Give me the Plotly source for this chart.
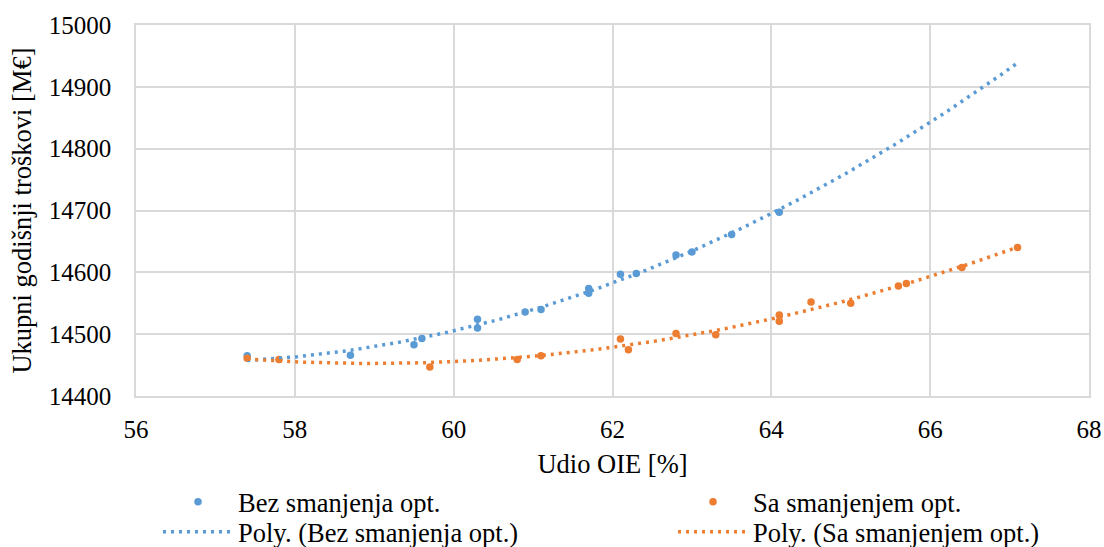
import numpy as np
import plotly.graph_objects as go

# Data
bez_x = [57.4, 58.7, 59.5, 59.6, 60.3, 60.3, 60.9, 61.1, 61.7, 61.7, 62.1, 62.3, 62.8, 63.0, 63.5, 64.1]
bez_y = [14465, 14466, 14483, 14493, 14524, 14510, 14536, 14540, 14574, 14566, 14597, 14598, 14628, 14633, 14661, 14697]

sa_x = [57.4, 57.8, 59.7, 60.8, 61.1, 62.1, 62.2, 62.8, 63.3, 64.1, 64.1, 64.5, 65.0, 65.6, 65.7, 66.4, 67.1]
sa_y = [14461, 14459, 14447, 14459, 14465, 14492, 14475, 14501, 14499, 14531, 14521, 14552, 14550, 14578, 14582, 14608, 14640]

trend_range = [57.4, 67.1]
x_ticks = [56, 58, 60, 62, 64, 66, 68]
y_ticks = [14400, 14500, 14600, 14700, 14800, 14900, 15000]

names = ["Bez smanjenja opt.", "Sa smanjenjem opt."]
colors = ["#5B9BD5", "#ED7D31"]

FONT = "Times New Roman"
TICK = dict(family=FONT, size=25, color="#000000")
TXT = dict(family=FONT, size=26.5, color="#000000")

fig = go.Figure()

series = [(bez_x, bez_y), (sa_x, sa_y)]
tx = np.linspace(trend_range[0], trend_range[1], 200)
for (xs, ys), nm, c, lg in zip(series, names, colors, ["legend", "legend2"]):
    fig.add_trace(go.Scatter(x=xs, y=ys, mode="markers", name=nm, legend=lg,
                             marker=dict(color=c, size=7.5, line=dict(width=0))))
for (xs, ys), nm, c, lg in zip(series, names, colors, ["legend3", "legend4"]):
    coef = np.polyfit(xs, ys, 2)
    fig.add_trace(go.Scatter(x=tx, y=np.polyval(coef, tx), mode="lines",
                             name=f"Poly. ({nm})", legend=lg,
                             line=dict(color=c, width=3.5, dash="3px,5px")))

grid = "#D9D9D9"


def leg(x, y):
    return dict(orientation="v", x=x, y=y, xanchor="left", yanchor="top",
                itemwidth=70, font=TXT, bgcolor="rgba(0,0,0,0)")


fig.update_layout(
    width=1104, height=547,
    margin=dict(l=136, r=15, t=25, b=151, autoexpand=False),
    paper_bgcolor="white", plot_bgcolor="white",
    font=TXT,
    xaxis=dict(range=[56, 68], tickmode="array", tickvals=x_ticks, ticktext=[str(v) for v in x_ticks],
               showgrid=True, gridcolor=grid, gridwidth=1.5,
               showline=True, linecolor=grid, linewidth=1.5, mirror=True, zeroline=False,
               ticks="", ticklabelstandoff=10, tickfont=TICK,
               title=dict(text="Udio OIE [%]", standoff=13, font=TXT)),
    yaxis=dict(range=[14400, 15000], tickmode="array", tickvals=y_ticks, ticktext=[str(v) for v in y_ticks],
               showgrid=True, gridcolor=grid, gridwidth=1.5,
               showline=True, linecolor=grid, linewidth=1.5, mirror=True, zeroline=False,
               ticks="", ticklabelstandoff=18, tickfont=TICK,
               title=dict(text="Ukupni godišnji troškovi [M€]", standoff=9, font=TXT)),
    legend=leg(0.0231, -0.2210),
    legend2=leg(0.5635, -0.2210),
    legend3=leg(0.0231, -0.3020),
    legend4=leg(0.5635, -0.3020),
    showlegend=True,
)

fig.write_html("out.html", config={"displayModeBar": False},
               post_script="document.body.style.margin='0px';")
